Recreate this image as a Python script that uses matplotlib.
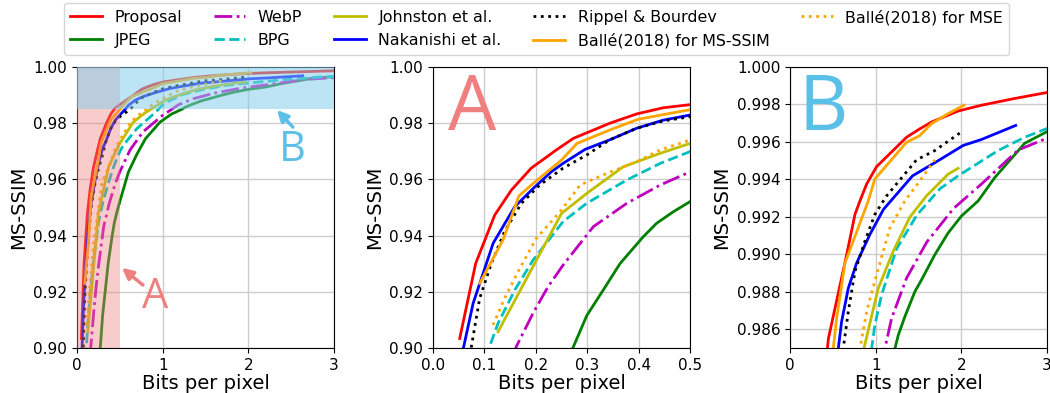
import matplotlib
matplotlib.use("Agg")
import matplotlib.pyplot as plt
from matplotlib.patches import Rectangle
from matplotlib.ticker import FormatStrFormatter

# rate-distortion points (bpp, MS-SSIM)
proposal_bpp = [0.0519, 0.083, 0.12, 0.1524, 0.191, 0.24, 0.273, 0.344, 0.396, 0.448, 0.5,
                0.661, 0.758, 0.816, 0.894, 1.01, 1.36, 1.515, 1.65, 1.962, 2.234, 2.622, 3.0]
proposal_ms = [0.9034, 0.9301, 0.9473, 0.9562, 0.9640, 0.9705, 0.9746, 0.9800, 0.9833, 0.9855, 0.9866,
               0.98998, 0.99213, 0.99285, 0.99375, 0.99468, 0.99625, 0.99670, 0.99706, 0.99765, 0.99796, 0.99832, 0.99864]

jpeg_bpp = [0.265, 0.272, 0.299, 0.331, 0.364, 0.409, 0.435, 0.4675, 0.5, 0.6, 0.7, 0.8, 0.97, 1.1,
            1.224, 1.263, 1.34, 1.457, 1.535, 1.69, 1.845, 2.0, 2.195, 2.39, 2.739, 3.0]
jpeg_ms = [0.897, 0.900, 0.9115, 0.9206, 0.9301, 0.9396, 0.9444, 0.9485, 0.9521, 0.9626, 0.969, 0.9745, 0.9804, 0.9832,
           0.98496, 0.98568, 0.98667, 0.98801, 0.98864, 0.98998, 0.99114, 0.99204, 0.99285, 0.9941, 0.99593, 0.99655]

webp_bpp = [0.155, 0.162, 0.1946, 0.2237, 0.253, 0.312, 0.377, 0.442, 0.5, 0.62, 0.77, 1.0,
            1.107, 1.185, 1.36, 1.597, 1.909, 2.234, 2.663, 3.0]
webp_ms = [0.897, 0.9005, 0.9124, 0.9218, 0.9295, 0.9432, 0.9515, 0.9580, 0.9627, 0.9705, 0.9769, 0.9828,
           0.98496, 0.98658, 0.98873, 0.99066, 0.99245, 0.99375, 0.99557, 0.9962]

bpg_bpp = [0.104, 0.110, 0.1265, 0.159, 0.1946, 0.253, 0.299, 0.377, 0.442, 0.5, 0.54, 0.697, 0.891,
           0.952, 0.99, 1.068, 1.244, 1.481, 1.75, 1.962, 2.428, 2.739, 3.0]
bpg_ms = [0.8965, 0.9005, 0.9088, 0.9206, 0.9313, 0.9450, 0.9515, 0.9598, 0.9657, 0.9699, 0.9721, 0.9780, 0.9832,
          0.98496, 0.98622, 0.98783, 0.9903, 0.9921, 0.9935, 0.99419, 0.99554, 0.99625, 0.99672]

johnston_bpp = [0.1265, 0.250, 0.299, 0.370, 0.442, 0.5, 0.657, 0.8,
                0.862, 0.913, 1.03, 1.204, 1.40, 1.593, 1.845, 1.962]
johnston_ms = [0.9058, 0.9479, 0.9550, 0.9645, 0.9693, 0.9728, 0.9804, 0.9838,
               0.98496, 0.98595, 0.98819, 0.99016, 0.9920, 0.99312, 0.99428, 0.99459]

nakanishi_bpp = [0.055, 0.0597, 0.078, 0.117, 0.159, 0.195, 0.230, 0.253, 0.296, 0.344, 0.396, 0.448, 0.5,
                 0.563, 0.602, 0.68, 0.777, 0.932, 1.091, 1.43, 1.73, 2.02, 2.234, 2.634]
nakanishi_ms = [0.8965, 0.9005, 0.9159, 0.9373, 0.9503, 0.9568, 0.9627, 0.9657, 0.9707, 0.9741, 0.9782, 0.9811, 0.9829,
                0.98496, 0.9864, 0.98819, 0.98953, 0.99106, 0.9924, 0.99419, 0.9950, 0.99581, 0.99613, 0.99688]

rippel_bpp = [0.069, 0.0746, 0.0908, 0.1135, 0.139, 0.172, 0.2075, 0.253, 0.299, 0.344, 0.396, 0.448, 0.5,
              0.621, 0.68, 0.758, 0.874, 0.99, 1.127, 1.476, 1.69, 1.98]
rippel_ms = [0.895, 0.9005, 0.9177, 0.9301, 0.9414, 0.9515, 0.9580, 0.9640, 0.9687, 0.9741, 0.9782, 0.9808, 0.9823,
             0.98496, 0.98694, 0.98909, 0.9907, 0.99213, 0.99312, 0.99504, 0.99554, 0.99647]

balle_ms_bpp = [0.0908, 0.136, 0.167, 0.195, 0.250, 0.280, 0.344, 0.399, 0.455, 0.5,
                0.544, 0.641, 0.913, 0.99, 1.36, 1.515, 1.65, 1.845, 2.03]
balle_ms_ms = [0.9230, 0.9384, 0.9541, 0.9586, 0.9669, 0.9728, 0.9776, 0.9814, 0.9833, 0.9848,
               0.98658, 0.98953, 0.99285, 0.99402, 0.99598, 0.99634, 0.99697, 0.99751, 0.99796]

balle_mse_bpp = [0.1167, 0.1394, 0.1686, 0.201, 0.250, 0.286, 0.331, 0.396, 0.442, 0.5, 0.62, 0.7,
                 0.816, 0.894, 1.01, 1.166, 1.34, 1.457, 1.69]
balle_mse_ms = [0.9082, 0.9177, 0.9283, 0.9390, 0.9491, 0.9580, 0.9616, 0.9663, 0.9705, 0.9740, 0.9800, 0.9825,
                0.98496, 0.98694, 0.98891, 0.99141, 0.99285, 0.99356, 0.99504]

curves = [
    ("Proposal", proposal_bpp, proposal_ms, "r", "-"),
    ("JPEG", jpeg_bpp, jpeg_ms, "g", "-"),
    ("WebP", webp_bpp, webp_ms, "m", "-."),
    ("BPG", bpg_bpp, bpg_ms, "c", "--"),
    ("Johnston et al.", johnston_bpp, johnston_ms, "y", "-"),
    ("Nakanishi et al.", nakanishi_bpp, nakanishi_ms, "b", "-"),
    ("Rippel & Bourdev", rippel_bpp, rippel_ms, "k", ":"),
    ("Ballé(2018) for MS-SSIM", balle_ms_bpp, balle_ms_ms, "orange", "-"),
    ("Ballé(2018) for MSE", balle_mse_bpp, balle_mse_ms, "orange", ":"),
]

A_COL = "lightcoral"
B_COL = "#5bc0e8"

fig = plt.figure(figsize=(10.5, 3.93), dpi=100)
ax1 = fig.add_axes([0.0733, 0.1145, 0.2448, 0.715])
ax2 = fig.add_axes([0.4124, 0.1145, 0.2448, 0.715])
ax3 = fig.add_axes([0.7524, 0.1145, 0.2448, 0.715])

for ax in (ax1, ax2, ax3):
    for name, x, y, c, ls in curves:
        ax.plot(x, y, color=c, linestyle=ls, linewidth=2, label=name)
    ax.grid(True, color="#cccccc", linewidth=1)
    ax.set_xlabel("Bits per pixel", fontsize=14, labelpad=1)
    ax.set_ylabel("MS-SSIM", fontsize=14)
    ax.tick_params(labelsize=11)

# overview panel with zoom regions A and B
ax1.set_xlim(0, 3)
ax1.set_ylim(0.9, 1.0)
ax1.set_xticks([0, 1, 2, 3])
ax1.yaxis.set_major_formatter(FormatStrFormatter("%.2f"))
ax1.add_patch(Rectangle((0, 0.9), 0.5, 0.1, color=A_COL, alpha=0.4, lw=0, zorder=3))
ax1.add_patch(Rectangle((0, 0.985), 3, 0.015, color="skyblue", alpha=0.55, lw=0, zorder=3))
ax1.text(0.91, 0.9181, "A", fontsize=30, color=A_COL, family="Open Sans", ha="center", va="center", zorder=5)
ax1.text(2.51, 0.9705, "B", fontsize=30, color=B_COL, family="Open Sans", ha="center", va="center", zorder=5)
ax1.annotate("", xy=(0.525, 0.9285), xytext=(0.77, 0.9224),
             arrowprops=dict(arrowstyle="-|>", color=A_COL, lw=2.5, mutation_scale=16, shrinkA=0, shrinkB=0), zorder=5)
ax1.annotate("", xy=(2.335, 0.9847), xytext=(2.52, 0.9786),
             arrowprops=dict(arrowstyle="-|>", color=B_COL, lw=2.5, mutation_scale=16, shrinkA=0, shrinkB=0), zorder=5)

# region A
ax2.set_xlim(0, 0.5)
ax2.set_ylim(0.9, 1.0)
ax2.yaxis.set_major_formatter(FormatStrFormatter("%.2f"))
ax2.xaxis.set_major_formatter(FormatStrFormatter("%.1f"))
ax2.text(0.076, 0.9847, "A", fontsize=55, color=A_COL, family="Open Sans", ha="center", va="center")

# region B
ax3.set_xlim(0, 3)
ax3.set_ylim(0.985, 1.0)
ax3.set_xticks([0, 1, 2, 3])
ax3.set_yticks([0.986, 0.988, 0.990, 0.992, 0.994, 0.996, 0.998, 1.000])
ax3.yaxis.set_major_formatter(FormatStrFormatter("%.3f"))
ax3.text(0.385, 0.9977, "B", fontsize=55, color=B_COL, family="Open Sans", ha="center", va="center")

handles, labels = ax1.get_legend_handles_labels()
fig.legend(handles, labels, loc="upper center", bbox_to_anchor=(0.511, 1.012), ncol=5, fontsize=11.4)

fig.savefig("out.png", dpi=100)
